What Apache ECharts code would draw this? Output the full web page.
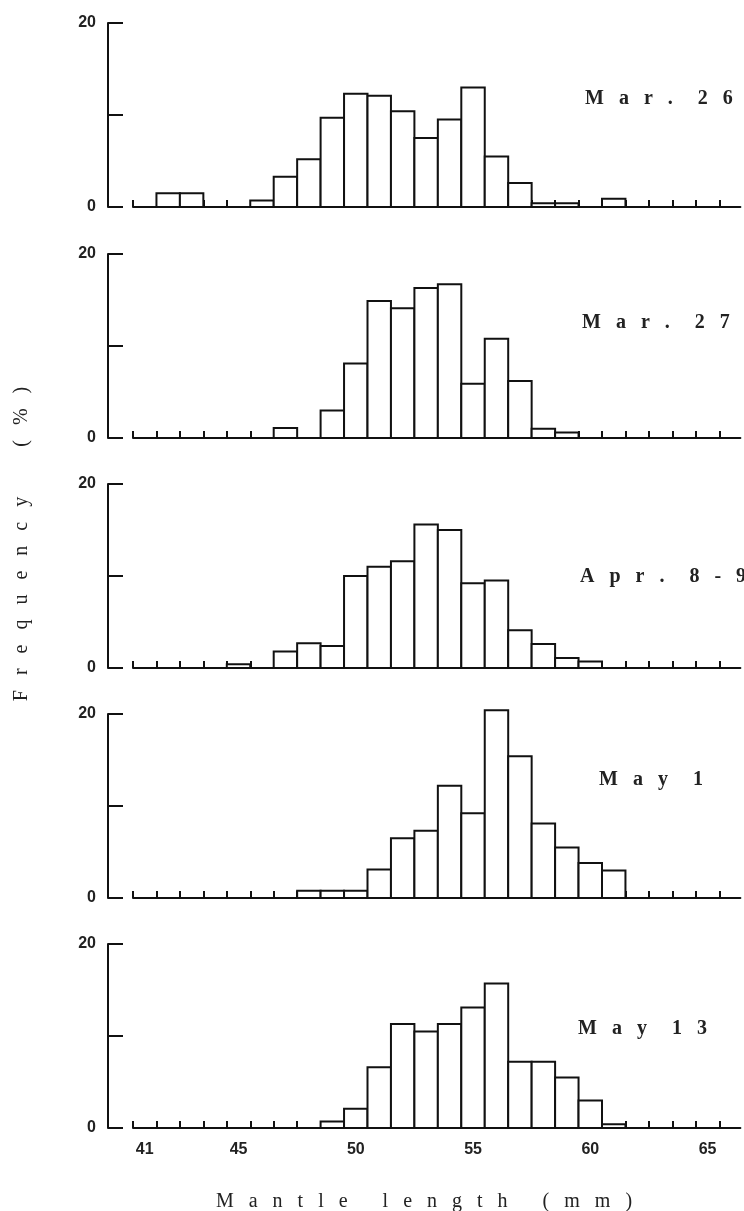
<!DOCTYPE html>
<html>
<head>
<meta charset="utf-8">
<script src="https://cdn.jsdelivr.net/npm/echarts@6/dist/echarts.min.js"></script>
<style>
html,body{margin:0;padding:0;background:#ffffff;}
#chart{width:744px;height:1211px;}
</style>
</head>
<body>
<div id="chart"></div>
<script>
// ---- data (mantle length bins, mm; frequency, %) ----
const bins = [41,42,43,44,45,46,47,48,49,50,51,52,53,54,55,56,57,58,59,60,61,62,63,64,65];
const dates = ['Mar. 26', 'Mar. 27', 'Apr. 8-9', 'May 1', 'May 13'];
const mar26 = [0,1.5,1.5,0,0,0.7,3.3,5.2,9.7,12.3,12.1,10.4,7.5,9.5,13.0,5.5,2.6,0.4,0.4,0,0.9,0,0,0,0];
const mar27 = [0,0,0,0,0,0,1.1,0,3.0,8.1,14.9,14.1,16.3,16.7,5.9,10.8,6.2,1.0,0.6,0,0,0,0,0,0];
const apr8_9 = [0,0,0,0,0.4,0,1.8,2.7,2.4,10.0,11.0,11.6,15.6,15.0,9.2,9.5,4.1,2.6,1.1,0.7,0,0,0,0,0];
const may1 = [0,0,0,0,0,0,0,0.8,0.8,0.8,3.1,6.5,7.3,12.2,9.2,20.4,15.4,8.1,5.5,3.8,3.0,0,0,0,0];
const may13 = [0,0,0,0,0,0,0,0,0.7,2.1,6.6,11.3,10.5,11.3,13.1,15.7,7.2,7.2,5.5,3.0,0.4,0,0,0,0];
const xTickLabels = [41, 45, 50, 55, 60, 65];
const yTickLabels = [0, 20];
const xTitle = 'Mantle length (mm)';
const yTitle = 'Frequency (%)';

const panels = [mar26, mar27, apr8_9, may1, may13];

// ---- layout ----
const GRID_TOPS = [23, 254, 484, 714, 944];
const GRID_H = 184;
const GRID_LEFT = 133;
const PX_PER_MM = 23.45;
const BIN_W = 1;
const X_MIN = bins[0] - BIN_W / 2;
const X_MAX = 66.4;
const GRID_W = (X_MAX - X_MIN) * PX_PER_MM;
const DATE_POS = [[585, 89], [582, 313], [580, 567], [599, 770], [578, 1019]];

const xTicks = bins.map(b => b - BIN_W / 2).concat([bins[bins.length - 1] + BIN_W / 2]);

function spread(s, ls, ws) {
  return s.split(' ').map(w => Array.from(w).join(' '.repeat(ls))).join(' '.repeat(ws));
}

const LINE = '#111';
const grids = [], xAxes = [], yAxes = [], series = [], titles = [];

panels.forEach((vals, i) => {
  grids.push({left: GRID_LEFT, top: GRID_TOPS[i], width: GRID_W, height: GRID_H, containLabel: false});
  const last = i === panels.length - 1;
  xAxes.push({
    type: 'value', gridIndex: i, min: X_MIN, max: X_MAX,
    axisLine: {show: true, onZero: false, lineStyle: {color: LINE, width: 2}},
    axisTick: {show: true, inside: true, length: 7, customValues: xTicks, lineStyle: {color: LINE, width: 2}},
    axisLabel: {show: last, customValues: xTickLabels, margin: 14,
      fontFamily: 'Liberation Sans', fontWeight: 'bold', fontSize: 16, color: '#222'},
    splitLine: {show: false}
  });
  yAxes.push({
    type: 'value', gridIndex: i, min: 0, max: 20, interval: 10, offset: 25,
    axisLine: {show: true, lineStyle: {color: LINE, width: 2}},
    axisTick: {show: true, inside: true, length: 15, lineStyle: {color: LINE, width: 2}},
    axisLabel: {show: true, customValues: yTickLabels, margin: 12, padding: [0, 0, 10, 0],
      fontFamily: 'Liberation Sans', fontWeight: 'bold', fontSize: 16, color: '#222'},
    splitLine: {show: false}
  });
  series.push({
    type: 'custom', xAxisIndex: i, yAxisIndex: i, clip: false,
    data: bins.map((b, k) => [b, vals[k]]),
    encode: {x: 0, y: 1},
    renderItem: function (params, api) {
      const v = api.value(0), f = api.value(1);
      if (!f) return null;
      const p0 = api.coord([v - BIN_W / 2, f]);
      const p1 = api.coord([v + BIN_W / 2, 0]);
      return {
        type: 'rect',
        shape: {x: p0[0], y: p0[1], width: p1[0] - p0[0], height: p1[1] - p0[1]},
        style: {fill: '#ffffff', stroke: LINE, lineWidth: 2}
      };
    }
  });
  titles.push({
    text: spread(dates[i], 3, 5), left: DATE_POS[i][0], top: DATE_POS[i][1], padding: 0,
    textStyle: {fontFamily: 'Liberation Serif', fontWeight: 'bold', fontSize: 20, lineHeight: 20, color: '#222'}
  });
});

const chart = echarts.init(document.getElementById('chart'), null, {renderer: 'canvas'});
chart.setOption({
  backgroundColor: '#ffffff',
  animation: false,
  title: titles,
  grid: grids,
  xAxis: xAxes,
  yAxis: yAxes,
  series: series,
  graphic: [
    {type: 'text', x: 424, y: 1202,
      style: {text: spread(xTitle, 3, 7), align: 'center', verticalAlign: 'middle',
        fontFamily: 'Liberation Serif', fontSize: 20, fill: '#222'}},
    {type: 'text', x: 22, y: 544, rotation: Math.PI / 2,
      style: {text: spread(yTitle, 3, 10), align: 'center', verticalAlign: 'middle',
        fontFamily: 'Liberation Serif', fontSize: 20, fill: '#222'}}
  ]
});
</script>
</body>
</html>
